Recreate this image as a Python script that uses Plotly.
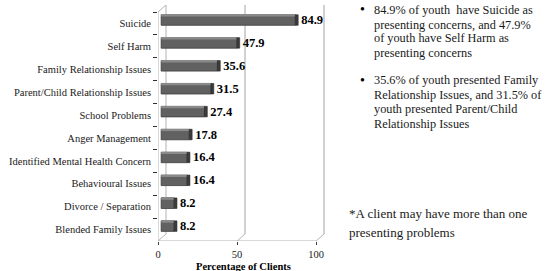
import plotly.graph_objects as go

# ---------------- data ----------------
categories = [
    "Suicide",
    "Self Harm",
    "Family Relationship Issues",
    "Parent/Child Relationship Issues",
    "School Problems",
    "Anger Management",
    "Identified Mental Health Concern",
    "Behavioural Issues",
    "Divorce / Separation",
    "Blended Family Issues",
]
values = [84.9, 47.9, 35.6, 31.5, 27.4, 17.8, 16.4, 16.4, 8.2, 8.2]
x_ticks = [0, 50, 100]
x_title = "Percentage of Clients"

bullet1 = ["84.9% of youth  have Suicide as",
           "presenting concerns, and 47.9%",
           "of youth have Self Harm as",
           "presenting concerns"]
bullet2 = ["35.6% of youth presented Family",
           "Relationship Issues, and 31.5% of",
           "youth presented Parent/Child",
           "Relationship Issues"]
footnote = ["*A client may have more than one",
            "presenting problems"]

# ---------------- geometry / style ----------------
W, H = 554, 271
L, T = 158, 5
PW, PH = 168, 236
X_MAX = 106.3
Y_TOP = -0.806
DX = 5.06      # 3D depth in x units
DY = 0.306     # 3D depth in category units
SHIFT = 2.0    # bar start offset (mid depth)
SIDE = 1.8     # side face depth
n = len(categories)

SERIF = "Liberation Serif"
WALL = "#b3b3b3"


def px_x(px):
    return (px - L) / PW


def px_y(py):
    return 1 - (py - T) / PH


fig = go.Figure()

fig.add_trace(go.Bar(
    y=categories, x=values, base=[SHIFT] * n, orientation="h",
    width=0.46, offset=-0.38,
    marker=dict(color="#616161", line=dict(color="#3c3c3c", width=0.8)),
    hoverinfo="skip", showlegend=False,
))
# lighter top face strip
fig.add_trace(go.Bar(
    y=categories, x=values, base=[SHIFT] * n, orientation="h",
    width=0.08, offset=-0.38,
    marker=dict(color="#8a8a8a", line=dict(width=0)),
    hoverinfo="skip", showlegend=False,
))
fig.add_trace(go.Bar(
    y=categories, x=[SIDE] * n, base=[v + SHIFT for v in values], orientation="h",
    width=0.46, offset=-0.38,
    marker=dict(color="#3a3a3a", line=dict(color="#2a2a2a", width=0.6)),
    text=[f"{v:.1f}" for v in values], texttemplate="<b>%{text}</b>", textposition="outside",
    constraintext="none",
    textfont=dict(family=SERIF, size=12.5, color="#000000"),
    cliponaxis=False, hoverinfo="skip", showlegend=False,
))

shapes = []
bottom = n - 0.5
top_front = -0.5
# left wall
shapes.append(dict(type="line", xref="x", yref="y", x0=0, x1=0, y0=bottom, y1=top_front,
                   line=dict(color=WALL, width=1), layer="below"))
shapes.append(dict(type="line", xref="x", yref="y", x0=0, x1=DX, y0=top_front, y1=top_front - DY,
                   line=dict(color=WALL, width=1), layer="below"))
shapes.append(dict(type="line", xref="x", yref="y", x0=DX, x1=DX, y0=bottom - DY, y1=top_front - DY,
                   line=dict(color=WALL, width=1), layer="below"))
# floor front edge
shapes.append(dict(type="line", xref="x", yref="y", x0=0, x1=x_ticks[-1], y0=bottom, y1=bottom,
                   line=dict(color=WALL, width=1), layer="below"))
# grid lines on back wall with floor diagonals
for t in x_ticks:
    shapes.append(dict(type="line", xref="x", yref="y", x0=t, x1=t + DX, y0=bottom, y1=bottom - DY,
                       line=dict(color=WALL, width=1), layer="below"))
    if t > 0:
        shapes.append(dict(type="line", xref="x", yref="y", x0=t + DX, x1=t + DX,
                           y0=bottom - DY, y1=Y_TOP,
                           line=dict(color=WALL, width=1.2), layer="below"))

annotations = []
# x-axis title
annotations.append(dict(text=f"<b>{x_title}</b>", xref="paper", yref="paper",
                        x=px_x(243), y=px_y(266), xanchor="center", yanchor="middle",
                        showarrow=False, font=dict(family=SERIF, size=10.5, color="#000000")))

TXT = dict(family=SERIF, size=12.3, color="#1a1a1a")
for lines, ys in ((bullet1, [10, 24.5, 38.5, 53]), (bullet2, [80.5, 95, 109, 123.5])):
    annotations.append(dict(text="•", xref="paper", yref="paper", x=px_x(358), y=px_y(ys[0]),
                            xanchor="left", yanchor="middle", showarrow=False,
                            font=dict(family=SERIF, size=14, color="#000000")))
    for line, yy in zip(lines, ys):
        annotations.append(dict(text=line, xref="paper", yref="paper", x=px_x(372), y=px_y(yy),
                                xanchor="left", yanchor="middle", showarrow=False, font=TXT))
for line, yy in zip(footnote, [213, 232]):
    annotations.append(dict(text=line, xref="paper", yref="paper", x=px_x(347), y=px_y(yy),
                            xanchor="left", yanchor="middle", showarrow=False,
                            font=dict(family=SERIF, size=13, color="#1a1a1a")))

fig.update_layout(
    width=W, height=H,
    margin=dict(l=L, r=W - L - PW, t=T, b=H - T - PH, pad=0),
    paper_bgcolor="white", plot_bgcolor="white",
    barmode="overlay",
    shapes=shapes, annotations=annotations,
    font=dict(family=SERIF, color="#1a1a1a"),
    xaxis=dict(range=[0, X_MAX], tickvals=x_ticks, ticks="outside", ticklen=3,
               tickcolor="#404040", showgrid=False, zeroline=False, showline=False,
               tickfont=dict(family=SERIF, size=10.5, color="#1a1a1a"), fixedrange=True),
    yaxis=dict(type="category", categoryorder="array", categoryarray=categories,
               range=[n - 0.5, Y_TOP], tickson="boundaries", ticks="outside", ticklen=4,
               tickcolor="#303030", showgrid=False, zeroline=False, showline=False,
               ticklabelstandoff=6,
               tickfont=dict(family=SERIF, size=10.5, color="#1a1a1a"), fixedrange=True),
)

fig.write_html("out.html", config={"displayModeBar": False},
               post_script="document.body.style.margin='0';document.body.style.padding='0';")
